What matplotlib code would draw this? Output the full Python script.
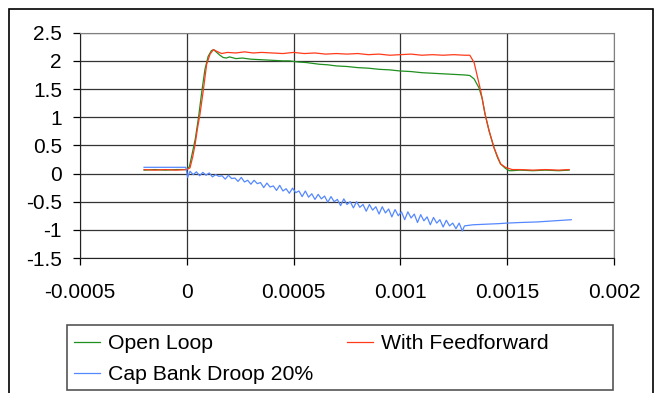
import numpy as np
import matplotlib
matplotlib.use('Agg')
import matplotlib.pyplot as plt
from matplotlib.patches import Rectangle

plt.rcParams['font.family'] = ['Liberation Sans', 'DejaVu Sans']

# time in microseconds
open_loop_t = [-200, -150, -100, -50, 0, 12, 25, 40, 55, 70, 85, 100, 115, 125,
               140, 155, 170, 185, 200, 230, 260, 300, 350, 400, 450, 480, 520,
               560, 600, 620, 660, 700, 750, 800, 850, 900, 950, 1000, 1050,
               1100, 1150, 1200, 1250, 1300, 1325, 1345, 1368, 1383, 1396,
               1415, 1438, 1455, 1469, 1492, 1510, 1523, 1560, 1620, 1680,
               1740, 1790]
open_loop_v = [0.06, 0.07, 0.06, 0.07, 0.07, 0.12, 0.35, 0.62, 1.00, 1.45, 1.85,
               2.08, 2.18, 2.20, 2.15, 2.10, 2.06, 2.05, 2.07, 2.04, 2.05, 2.03,
               2.02, 2.01, 2.00, 2.00, 1.98, 1.97, 1.95, 1.94, 1.93, 1.91, 1.90,
               1.88, 1.87, 1.85, 1.84, 1.82, 1.81, 1.79, 1.78, 1.77, 1.76, 1.75,
               1.74, 1.68, 1.52, 1.33, 1.06, 0.76, 0.46, 0.28, 0.17, 0.09,
               0.05, 0.05, 0.06, 0.05, 0.06, 0.05, 0.06]

feedforward_t = [-200, -150, -100, -50, 0, 15, 28, 39, 50, 62, 77, 93, 109, 125,
                 140, 163, 190, 230, 270, 310, 350, 400, 450, 500, 550, 600,
                 650, 700, 750, 800, 850, 900, 950, 1000, 1050, 1100, 1150,
                 1200, 1250, 1300, 1325, 1345, 1376, 1396, 1415, 1438, 1469,
                 1492, 1523, 1560, 1620, 1680, 1740, 1790]
feedforward_v = [0.07, 0.06, 0.07, 0.06, 0.07, 0.10, 0.30, 0.52, 0.80, 1.06, 1.47,
                 1.94, 2.12, 2.20, 2.17, 2.13, 2.15, 2.14, 2.16, 2.14, 2.15,
                 2.14, 2.13, 2.15, 2.13, 2.14, 2.12, 2.13, 2.12, 2.13, 2.11,
                 2.12, 2.10, 2.11, 2.12, 2.10, 2.11, 2.10, 2.11, 2.10, 2.10,
                 1.97, 1.47, 1.06, 0.76, 0.46, 0.17, 0.11, 0.07, 0.07, 0.06,
                 0.07, 0.06, 0.07]

cap_droop_t = [-200, -100, -5, 0, 4, 15, 30, 45, 60, 75, 90, 105, 120, 135, 150,
               165, 180, 195, 210, 225, 240, 255, 270, 285, 300, 315, 330, 345,
               360, 375, 390, 405, 420, 435, 450, 465, 480, 495, 510, 525, 540,
               555, 570, 585, 600, 615, 630, 645, 660, 675, 690, 705, 720, 735,
               750, 765, 780, 795, 810, 825, 840, 855, 870, 885, 900, 915, 930,
               945, 960, 975, 990, 1005, 1020, 1035, 1050, 1065, 1080, 1095,
               1110, 1125, 1140, 1155, 1170, 1185, 1200, 1215, 1230, 1245, 1260,
               1275, 1290, 1300, 1320, 1340, 1400, 1460, 1500, 1560, 1640,
               1720, 1800]
cap_droop_v = [0.11, 0.11, 0.11, 0.02, -0.07, 0.04, -0.02, 0.03, -0.04, 0.02,
               -0.03, 0.01, -0.06, -0.02, -0.05, -0.04, -0.10, -0.03, -0.09,
               -0.08, -0.14, -0.07, -0.15, -0.12, -0.19, -0.12, -0.18, -0.16,
               -0.25, -0.17, -0.24, -0.22, -0.30, -0.21, -0.31, -0.27, -0.35,
               -0.26, -0.34, -0.31, -0.41, -0.31, -0.42, -0.36, -0.46, -0.37,
               -0.45, -0.40, -0.51, -0.41, -0.50, -0.46, -0.57, -0.45, -0.55,
               -0.50, -0.61, -0.50, -0.60, -0.55, -0.67, -0.55, -0.65, -0.59,
               -0.72, -0.59, -0.70, -0.63, -0.77, -0.64, -0.75, -0.68, -0.82,
               -0.68, -0.79, -0.72, -0.87, -0.73, -0.84, -0.77, -0.91, -0.78,
               -0.88, -0.82, -0.95, -0.83, -0.93, -0.88, -0.98, -0.88, -1.02,
               -0.93, -0.92, -0.91, -0.90, -0.89, -0.88, -0.87, -0.86, -0.84,
               -0.82]

series = [
    ('Open Loop', open_loop_t, open_loop_v, '#1f8f1f'),
    ('With Feedforward', feedforward_t, feedforward_v, '#ff3a1a'),
    ('Cap Bank Droop 20%', cap_droop_t, cap_droop_v, '#5588ff'),
]

fig = plt.figure(figsize=(6.65, 3.93), dpi=100)
ax = fig.add_axes([80 / 665, 1 - 258 / 393, 534 / 665, 225.3 / 393])

lines = []
for name, t, v, col in series:
    ln, = ax.plot(np.array(t) * 1e-6, v, color=col, lw=0.9, label=name)
    lines.append(ln)

ax.set_xlim(-0.0005, 0.002)
ax.set_ylim(-1.5, 2.5)
ax.set_xticks([-0.0005, 0, 0.0005, 0.001, 0.0015, 0.002])
ax.set_xticklabels(['-0.0005', '0', '0.0005', '0.001', '0.0015', '0.002'])
ax.set_yticks(np.arange(-1.5, 2.51, 0.5))
ax.set_yticklabels(['-1.5', '-1', '-0.5', '0', '0.5', '1', '1.5', '2', '2.5'])
ax.grid(True, color='#333333', lw=0.9)
ax.set_axisbelow(True)
for s in ['top', 'right']:
    ax.spines[s].set_color('#808080')
for s in ['left', 'bottom']:
    ax.spines[s].set_color('#222222')
ax.tick_params(direction='out', length=5, width=0.9, labelsize=15, colors='black')
ax.tick_params(axis='y', pad=8)
ax.tick_params(axis='x', pad=13)

# outer chart border and legend box
fig.patches.append(Rectangle((9 / 665, -0.05), 644 / 665, 1.04 - 5 / 393,
                             transform=fig.transFigure, fill=False,
                             edgecolor='black', lw=1.2))
fig.patches.append(Rectangle((67 / 665, 1 - 390 / 393), 546 / 665, 65.5 / 393,
                             transform=fig.transFigure, fill=False,
                             edgecolor='#555555', lw=1.2))

# column-major fill: put the items so rows read Open Loop / With Feedforward
order = [lines[0], lines[2], lines[1]]
fig.legend(order, [l.get_label() for l in order], loc='upper left',
           bbox_to_anchor=(70 / 665, 1 - 330 / 393), ncol=2,
           frameon=False, fontsize=15.3, handlelength=1.22, handletextpad=0.38,
           columnspacing=1.58, labelspacing=0.55, borderaxespad=0, borderpad=0.2)

fig.savefig('out.png', dpi=100)
